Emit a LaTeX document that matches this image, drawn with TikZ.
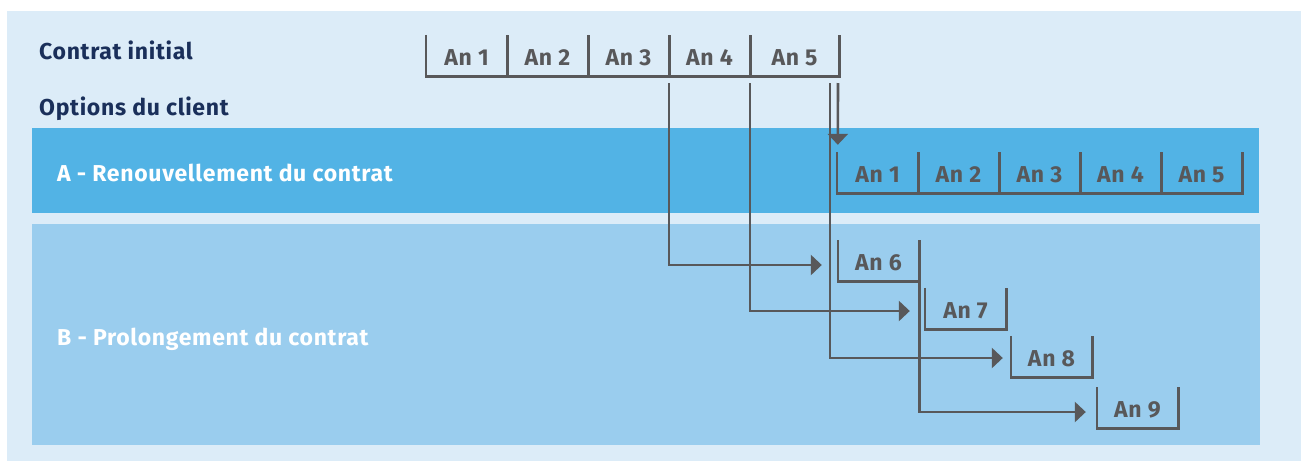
\documentclass[tikz,border=0pt]{standalone}
\usepackage{fontspec}
\setmainfont{Fira Sans}[LetterSpace=3]
\usetikzlibrary{arrows.meta,calc}
\definecolor{outerbg}{HTML}{DCECF8}
\definecolor{bandA}{HTML}{52B3E5}
\definecolor{bandB}{HTML}{9ACDEE}
\definecolor{navy}{HTML}{1A2F5A}
\definecolor{lgrey}{HTML}{58585A}
\begin{document}
\begin{tikzpicture}[x=1pt,y=-1pt,
  yearbox/.style={minimum width=81pt,minimum height=41pt,inner sep=0pt,
    text height=19pt,text depth=0pt,
    text=lgrey,font=\fontsize{23}{26}\selectfont\bfseries},
  bracket/.style={draw=lgrey,line width=2.6pt},
  conn/.style={draw=lgrey,line width=2.6pt,-{Triangle[length=11pt,width=20pt]}},
  title/.style={anchor=base west,inner sep=0pt,text=navy,font=\fontsize{23}{26}\selectfont\bfseries},
  bandlabel/.style={anchor=base west,inner sep=0pt,text=white,font=\fontsize{23}{26}\selectfont\bfseries}]
\useasboundingbox (0,0) rectangle (1301,461);
\fill[outerbg] (7,11) rectangle (1301,461);
\fill[bandA] (32,128) rectangle (1259,213);
\fill[bandB] (32,224) rectangle (1260,445);

\node[title] (ci) at (39,59) {Contrat initial};
\node[title] (oc) at (39,115) {Options du client};
\node[bandlabel] (la) at (57,181) {A - Renouvellement du contrat};
\node[bandlabel] (lb) at (57,345) {B - Prolongement du contrat};

% initial contract
\node[yearbox] (t1) at (466.5,55.5) {An 1};
\node[yearbox] (t2) at (547.5,55.5) {An 2};
\node[yearbox] (t3) at (628.5,55.5) {An 3};
\node[yearbox] (t4) at (709.5,55.5) {An 4};
\node[yearbox,minimum width=89pt] (t5) at (794.5,55.5) {An 5};
\foreach \n in {t1,t2,t3,t4,t5}
  \draw[bracket] (\n.north west) -- (\n.south west) -- (\n.south east) -- (\n.north east);

% renewal
\foreach \i/\x in {1/877.5,2/958.5,3/1039.5,4/1120.5,5/1201.5}
  \node[yearbox] (a\i) at (\x,172.5) {An \i};
\foreach \n in {a1,a2,a3,a4,a5}
  \draw[bracket] (\n.north west) -- (\n.south west) -- (\n.south east) -- (\n.north east);

% extension
\node[yearbox] (b6) at (878.5,261) {An 6};
\node[yearbox] (b7) at (965.5,308.5) {An 7};
\node[yearbox] (b8) at (1051.5,356.5) {An 8};
\node[yearbox] (b9) at (1137.5,408) {An 9};
\foreach \n in {b6,b7,b8,b9}
  \draw[bracket] (\n.north west) -- (\n.south west) -- (\n.south east) -- (\n.north east);

% connector start points
\coordinate (s4) at ($(t4.south west)+(0,7)$);
\coordinate (s5) at ($(t5.south west)+(0,7)$);
\coordinate (s6) at (830,83);
\coordinate (s7) at (838,83);
\coordinate (e6) at ($(b6.west)+(-16,4)$);
\coordinate (e7) at ($(b7.west)+(-15,2.5)$);
\coordinate (e8) at ($(b8.west)+(-8,1.5)$);
\coordinate (e9) at ($(b9.west)+(-11,4)$);
\coordinate (ea) at ($(a1.north west)+(1,-7)$);

\draw[conn] (s4) |- (e6);
\draw[conn] (s5) |- (e7);
\draw[conn] (s6) |- (e8);
\draw[conn] (b6.south east) |- (e9);
\draw[conn] (s7) -- (ea);
\end{tikzpicture}
\end{document}
